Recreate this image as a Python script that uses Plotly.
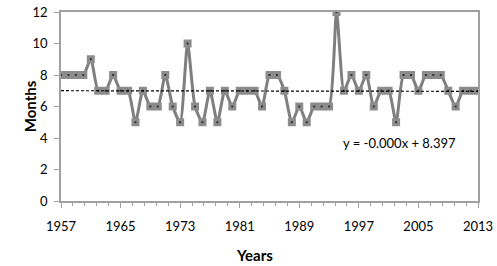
import numpy as np
import plotly.graph_objects as go

years = list(range(1957, 2014))
months = [8, 8, 8, 8, 9, 7, 7, 8, 7, 7, 5, 7, 6, 6, 8, 6, 5, 10, 6,
          5, 7, 5, 7, 6, 7, 7, 7, 6, 8, 8, 7, 5, 6, 5, 6, 6, 6, 12,
          7, 8, 7, 8, 6, 7, 7, 5, 8, 8, 7, 8, 8, 8, 7, 6, 7, 7, 7]
x_ticks = list(range(1957, 2014, 8))
y_ticks = list(range(0, 13, 2))
trend_label = "y = -0.000x + 8.397"

slope, intercept = np.polyfit(years, months, 1)
trend_x = [years[0], years[-1]]
trend_y = [slope * v + intercept for v in trend_x]

FONT = "Lato, 'Open Sans', sans-serif"

fig = go.Figure()
fig.add_trace(go.Scatter(
    x=years, y=months, mode="lines+markers",
    line=dict(color="#7f7f7f", width=3, shape="spline", smoothing=0.6),
    marker=dict(symbol="square", size=8, color="#8c8c8c",
                line=dict(color="#555555", width=0)),
    showlegend=False, hoverinfo="x+y"))
fig.add_trace(go.Scatter(
    x=years, y=months, mode="markers",
    marker=dict(symbol="square", size=2, color="#333333"),
    showlegend=False, hoverinfo="skip"))
fig.add_trace(go.Scatter(
    x=trend_x, y=trend_y, mode="lines",
    line=dict(color="black", width=1.2, dash="3px,2px"),
    showlegend=False, hoverinfo="skip"))

fig.add_annotation(x=2002.5, y=3.7, xref="x", yref="y", text=trend_label,
                   showarrow=False, font=dict(family=FONT, size=13, color="black"))
fig.add_annotation(x=0.465, y=-0.285, xref="paper", yref="paper", text="<b>Years</b>",
                   showarrow=False, yanchor="middle",
                   font=dict(family=FONT, size=15, color="black"))
fig.add_annotation(x=-0.075, y=0.5, xref="paper", yref="paper", text="<b>Months</b>",
                   showarrow=False, textangle=-90, xanchor="center",
                   font=dict(family=FONT, size=15, color="black"))

fig.update_layout(
    width=497, height=266,
    margin=dict(l=61, r=19, t=12, b=65),
    paper_bgcolor="white", plot_bgcolor="white",
    font=dict(family=FONT, size=13, color="black"),
)
fig.update_xaxes(
    range=[1957, 2013], tickvals=x_ticks, ticktext=[str(v) for v in x_ticks],
    showgrid=False, zeroline=False, automargin=False,
    showline=True, linecolor="#a0a0a0", linewidth=1.5, mirror=True,
    ticks="outside", ticklen=5, tickcolor="#a0a0a0", tickwidth=1,
    ticklabelstandoff=8,
    minor=dict(ticks="outside", ticklen=3, tick0=1957, dtick=1.6,
               tickcolor="#a0a0a0", tickwidth=1, showgrid=False),
    tickfont=dict(size=13),
)
fig.update_yaxes(
    range=[0, 12], tickvals=y_ticks,
    showgrid=False, zeroline=False, automargin=False,
    showline=True, linecolor="#a0a0a0", linewidth=1.5, mirror=True,
    ticks="outside", ticklen=5, tickcolor="#a0a0a0", tickwidth=1,
    ticklabelstandoff=4,
    tickfont=dict(size=13),
)

fig.write_html("out.html", config={"displayModeBar": False},
               post_script="document.body.style.margin='0';")
